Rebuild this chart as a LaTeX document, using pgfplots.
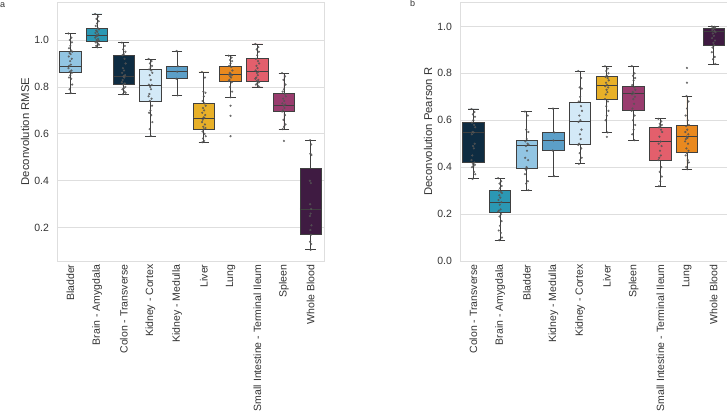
\documentclass[border=0pt]{standalone}
\usepackage{pgfplots}
\pgfplotsset{compat=1.18}
\usepgfplotslibrary{statistics}
\usepackage{fontspec}
\setmainfont{Liberation Sans}
\definecolor{cBladder}{HTML}{92C5E3}
\definecolor{cBrain}{HTML}{2B98B4}
\definecolor{cColon}{HTML}{0E2C42}
\definecolor{cKCortex}{HTML}{D3E9F7}
\definecolor{cKMedulla}{HTML}{5C9FC8}
\definecolor{cLiver}{HTML}{E8B028}
\definecolor{cLung}{HTML}{E9891F}
\definecolor{cSmall}{HTML}{E35F6C}
\definecolor{cSpleen}{HTML}{993C6E}
\definecolor{cBlood}{HTML}{3F1B42}
\definecolor{edge}{HTML}{404040}
\definecolor{txt}{HTML}{333333}
\definecolor{gridc}{HTML}{DEDEDE}
\definecolor{dots}{HTML}{555555}
\newcommand{\bx}[7]{\addplot[boxplot prepared={draw position=#1, lower whisker=#3, lower quartile=#4, median=#5, upper quartile=#6, upper whisker=#7}, fill=#2, draw=edge, line width=0.8pt] coordinates {};}
\pgfplotsset{
  panel/.style={
    anchor=north west, width=267pt, height=259pt, scale only axis,
    xmin=-0.5, xmax=9.5, xtick={0,...,9},
    major tick length=0pt,
    xticklabel style={rotate=90, anchor=east, font=\fontsize{10.5}{12}\selectfont, text=txt},
    yticklabel style={font=\fontsize{10.5}{12}\selectfont, text=txt, xshift=-4.5pt},
    ymajorgrids, grid style={gridc, line width=0.8pt},
    axis line style={gridc, line width=0.8pt},
    every axis y label/.style={at={(rel axis cs:0,0.5)}, xshift=-32pt, anchor=center, rotate=90, font=\fontsize{11.3}{13}\selectfont, text=txt},
    boxplot/draw direction=y,
    boxplot/box extend=0.8,
    boxplot/whisker extend=0.4,
  },
  strip/.style={only marks, mark=*, mark size=0.9pt, draw=dots, fill=dots, fill opacity=0.7, draw opacity=0.8},
}
\begin{document}
\begin{tikzpicture}
\path[use as bounding box] (0pt,0pt) rectangle (727pt,-416pt);
\node[anchor=north west, inner sep=0pt, font=\fontsize{9}{10}\selectfont, text=txt] at (0pt,-2pt) {a};
\node[anchor=north west, inner sep=0pt, font=\fontsize{9}{10}\selectfont, text=txt] at (410pt,0pt) {b};
\begin{axis}[panel, at={(57pt,-2pt)},
  ymin=0.058, ymax=1.162,
  ytick={0.2,0.4,0.6,0.8,1.0}, yticklabels={0.2,0.4,0.6,0.8,1.0},
  xticklabels={Bladder, Brain - Amygdala, Colon - Transverse, Kidney - Cortex, Kidney - Medulla, Liver, Lung, Small Intestine - Terminal Ileum, Spleen, Whole Blood},
  ylabel={Deconvolution RMSE}]
\bx{0}{cBladder}{0.774}{0.861}{0.889}{0.950}{1.028}
\bx{1}{cBrain}{0.969}{0.996}{1.018}{1.051}{1.111}
\bx{2}{cColon}{0.769}{0.811}{0.844}{0.936}{0.989}
\bx{3}{cKCortex}{0.591}{0.740}{0.808}{0.875}{0.919}
\bx{4}{cKMedulla}{0.764}{0.835}{0.865}{0.888}{0.953}
\bx{5}{cLiver}{0.564}{0.620}{0.668}{0.728}{0.864}
\bx{6}{cLung}{0.756}{0.823}{0.852}{0.888}{0.933}
\bx{7}{cSmall}{0.800}{0.824}{0.865}{0.923}{0.983}
\bx{8}{cSpleen}{0.620}{0.696}{0.723}{0.774}{0.859}
\bx{9}{cBlood}{0.106}{0.170}{0.280}{0.454}{0.573}
\addplot[strip] coordinates {
(-0.07,1.028)(0.04,1.01)(-0.02,1.0)(0.06,0.99)(0,0.975)(-0.05,0.965)(0.03,0.955)(0.07,0.95)(-0.03,0.945)(0.01,0.94)(-0.06,0.93)(0.05,0.92)(-0.01,0.91)(0.02,0.895)(-0.04,0.89)(-0.07,0.88)(0.04,0.87)(-0.02,0.865)(0.06,0.86)(0,0.85)(-0.05,0.84)(0.03,0.835)(0.07,0.81)(-0.03,0.79)(0.01,0.774)
(0.93,1.111)(1.04,1.10)(0.98,1.09)(1.06,1.08)(1.0,1.07)(0.95,1.06)(1.03,1.05)(1.07,1.045)(0.97,1.04)(1.01,1.035)(0.94,1.03)(1.05,1.025)(0.99,1.02)(1.02,1.018)(0.96,1.015)(0.93,1.01)(1.04,1.005)(0.98,1.0)(1.06,0.998)(1.0,0.995)(0.95,0.99)(1.03,0.985)(1.07,0.98)(0.97,0.975)(1.01,0.969)
(1.93,0.989)(2.04,0.975)(1.98,0.96)(2.06,0.95)(2.0,0.94)(1.95,0.935)(2.03,0.92)(2.07,0.90)(1.97,0.88)(2.01,0.87)(1.94,0.86)(2.05,0.85)(1.99,0.845)(2.02,0.84)(1.96,0.83)(1.93,0.82)(2.04,0.815)(1.98,0.81)(2.06,0.80)(2.0,0.795)(1.95,0.79)(2.03,0.78)(2.07,0.775)(1.97,0.769)
(2.93,0.919)(3.04,0.91)(2.98,0.90)(3.06,0.89)(3.0,0.885)(2.95,0.875)(3.03,0.87)(3.07,0.86)(2.97,0.85)(3.01,0.83)(2.94,0.81)(3.05,0.808)(2.99,0.80)(3.02,0.79)(2.96,0.77)(2.93,0.76)(3.04,0.75)(2.98,0.74)(3.06,0.72)(3.0,0.70)(2.95,0.69)(3.03,0.68)(3.07,0.65)(2.97,0.62)(3.01,0.591)
(3.98,0.953)(4.03,0.888)(4.0,0.865)(3.97,0.835)(4.02,0.764)
(4.93,0.864)(5.04,0.84)(4.98,0.78)(5.06,0.775)(5.0,0.76)(4.95,0.74)(5.03,0.73)(5.07,0.72)(4.97,0.71)(5.01,0.70)(4.94,0.69)(5.05,0.68)(4.99,0.67)(5.02,0.668)(4.96,0.66)(4.93,0.65)(5.04,0.64)(4.98,0.63)(5.06,0.625)(5.0,0.62)(4.95,0.61)(5.03,0.60)(5.07,0.59)(4.97,0.58)(5.01,0.57)(4.94,0.564)
(5.93,0.933)(6.04,0.925)(5.98,0.915)(6.06,0.91)(6.0,0.90)(5.95,0.89)(6.03,0.885)(6.07,0.87)(5.97,0.86)(6.01,0.855)(5.94,0.852)(6.05,0.85)(5.99,0.845)(6.02,0.84)(5.96,0.83)(5.93,0.825)(6.04,0.82)(5.98,0.80)(6.06,0.78)(6.0,0.756)(6.0,0.720)(6.0,0.677)(6.0,0.590)
(6.93,0.983)(7.04,0.97)(6.98,0.96)(7.06,0.95)(7.0,0.935)(6.95,0.92)(7.03,0.91)(7.07,0.90)(6.97,0.89)(7.01,0.88)(6.94,0.87)(7.05,0.865)(6.99,0.86)(7.02,0.85)(6.96,0.84)(6.93,0.835)(7.04,0.83)(6.98,0.825)(7.06,0.82)(7.0,0.815)(6.95,0.81)(7.03,0.805)(7.07,0.80)
(7.93,0.859)(8.04,0.845)(7.98,0.83)(8.06,0.81)(8.0,0.79)(7.95,0.78)(8.03,0.77)(8.07,0.76)(7.97,0.75)(8.01,0.74)(7.94,0.73)(8.05,0.725)(7.99,0.72)(8.02,0.71)(7.96,0.70)(7.93,0.695)(8.04,0.68)(7.98,0.66)(8.06,0.64)(8.0,0.63)(7.95,0.62)(8.0,0.570)
(8.98,0.573)(9.02,0.555)(8.99,0.515)(9.03,0.51)(8.97,0.40)(9.01,0.39)(8.98,0.30)(9.02,0.28)(9.0,0.26)(8.97,0.25)(9.03,0.21)(8.99,0.19)(9.01,0.17)(8.98,0.14)(9.02,0.13)(9.0,0.106)
};
\end{axis}
\begin{axis}[panel, at={(460pt,-2pt)},
  ymin=0, ymax=1.104,
  ytick={0,0.2,0.4,0.6,0.8,1.0}, yticklabels={0.0,0.2,0.4,0.6,0.8,1.0},
  xticklabels={Colon - Transverse, Brain - Amygdala, Bladder, Kidney - Medulla, Kidney - Cortex, Liver, Spleen, Small Intestine - Terminal Ileum, Lung, Whole Blood},
  ylabel={Deconvolution Pearson R}]
\bx{0}{cColon}{0.350}{0.420}{0.548}{0.589}{0.648}
\bx{1}{cBrain}{0.089}{0.209}{0.251}{0.299}{0.353}
\bx{2}{cBladder}{0.302}{0.396}{0.492}{0.516}{0.637}
\bx{3}{cKMedulla}{0.362}{0.471}{0.514}{0.548}{0.650}
\bx{4}{cKCortex}{0.414}{0.497}{0.593}{0.678}{0.810}
\bx{5}{cLiver}{0.548}{0.689}{0.750}{0.789}{0.830}
\bx{6}{cSpleen}{0.515}{0.641}{0.714}{0.743}{0.831}
\bx{7}{cSmall}{0.319}{0.430}{0.509}{0.570}{0.606}
\bx{8}{cLung}{0.391}{0.465}{0.530}{0.576}{0.703}
\bx{9}{cBlood}{0.838}{0.918}{0.980}{0.993}{1.001}
\addplot[strip] coordinates {
(-0.07,0.648)(0.04,0.635)(-0.02,0.625)(0.06,0.615)(0,0.60)(-0.05,0.59)(0.03,0.58)(0.07,0.57)(-0.03,0.55)(0.01,0.548)(-0.06,0.54)(0.05,0.50)(-0.01,0.49)(0.02,0.48)(-0.04,0.45)(-0.07,0.43)(0.04,0.42)(-0.02,0.415)(0.06,0.41)(0,0.405)(-0.05,0.40)(0.03,0.38)(0.07,0.37)(-0.03,0.35)
(0.93,0.353)(1.04,0.34)(0.98,0.33)(1.06,0.32)(1.0,0.31)(0.95,0.30)(1.03,0.295)(1.07,0.29)(0.97,0.28)(1.01,0.27)(0.94,0.26)(1.05,0.251)(0.99,0.24)(1.02,0.22)(0.96,0.215)(0.93,0.21)(1.04,0.20)(0.98,0.19)(1.06,0.17)(1.0,0.15)(0.95,0.13)(1.03,0.12)(1.07,0.10)(0.97,0.089)
(1.93,0.637)(2.04,0.62)(1.98,0.56)(2.06,0.55)(2.0,0.52)(1.95,0.51)(2.03,0.50)(2.07,0.495)(1.97,0.49)(2.01,0.47)(1.94,0.44)(2.05,0.43)(1.99,0.40)(2.02,0.395)(1.96,0.39)(1.93,0.37)(2.04,0.34)(1.98,0.33)(2.06,0.302)
(2.98,0.650)(3.03,0.548)(3.0,0.514)(2.97,0.471)(3.02,0.362)
(3.93,0.810)(4.04,0.78)(3.98,0.74)(4.06,0.735)(4.0,0.70)(3.95,0.68)(4.03,0.66)(4.07,0.64)(3.97,0.62)(4.01,0.60)(3.94,0.593)(4.05,0.56)(3.99,0.54)(4.02,0.52)(3.96,0.50)(3.93,0.495)(4.04,0.48)(3.98,0.46)(4.06,0.44)(4.0,0.43)(3.95,0.414)
(4.93,0.830)(5.04,0.82)(4.98,0.81)(5.06,0.80)(5.0,0.79)(4.95,0.785)(5.03,0.78)(5.07,0.77)(4.97,0.76)(5.01,0.75)(4.94,0.745)(5.05,0.74)(4.99,0.73)(5.02,0.72)(4.96,0.71)(4.93,0.69)(5.04,0.68)(4.98,0.66)(5.06,0.64)(5.0,0.62)(4.95,0.60)(5.03,0.548)(5.0,0.529)
(5.93,0.831)(6.04,0.80)(5.98,0.79)(6.06,0.78)(6.0,0.77)(5.95,0.75)(6.03,0.74)(6.07,0.73)(5.97,0.72)(6.01,0.714)(5.94,0.71)(6.05,0.70)(5.99,0.69)(6.02,0.67)(5.96,0.65)(5.93,0.64)(6.04,0.62)(5.98,0.60)(6.06,0.58)(6.0,0.56)(5.95,0.54)(6.03,0.515)
(6.93,0.606)(7.04,0.595)(6.98,0.585)(7.06,0.58)(7.0,0.575)(6.95,0.57)(7.03,0.56)(7.07,0.55)(6.97,0.53)(7.01,0.509)(6.94,0.50)(7.05,0.49)(6.99,0.47)(7.02,0.45)(6.96,0.44)(6.93,0.43)(7.04,0.40)(6.98,0.38)(7.06,0.36)(7.0,0.34)(6.95,0.319)
(8.0,0.823)(8.0,0.760)(7.98,0.703)(8.06,0.68)(8.0,0.65)(7.95,0.62)(8.03,0.60)(8.07,0.58)(7.97,0.575)(8.01,0.56)(7.94,0.55)(8.05,0.54)(7.99,0.53)(8.02,0.525)(7.96,0.52)(7.93,0.51)(8.04,0.50)(7.98,0.48)(8.06,0.47)(8.0,0.46)(7.95,0.45)(8.03,0.43)(8.07,0.42)(7.97,0.40)(8.01,0.391)
(8.93,1.0)(9.04,0.998)(8.98,0.995)(9.06,0.993)(9.0,0.99)(8.95,0.985)(9.03,0.98)(9.07,0.975)(8.97,0.97)(9.01,0.96)(8.94,0.95)(9.05,0.94)(8.99,0.93)(9.02,0.92)(8.96,0.91)(8.93,0.89)(9.04,0.87)(8.98,0.86)(9.06,0.84)
};
\end{axis}
\end{tikzpicture}
\end{document}
